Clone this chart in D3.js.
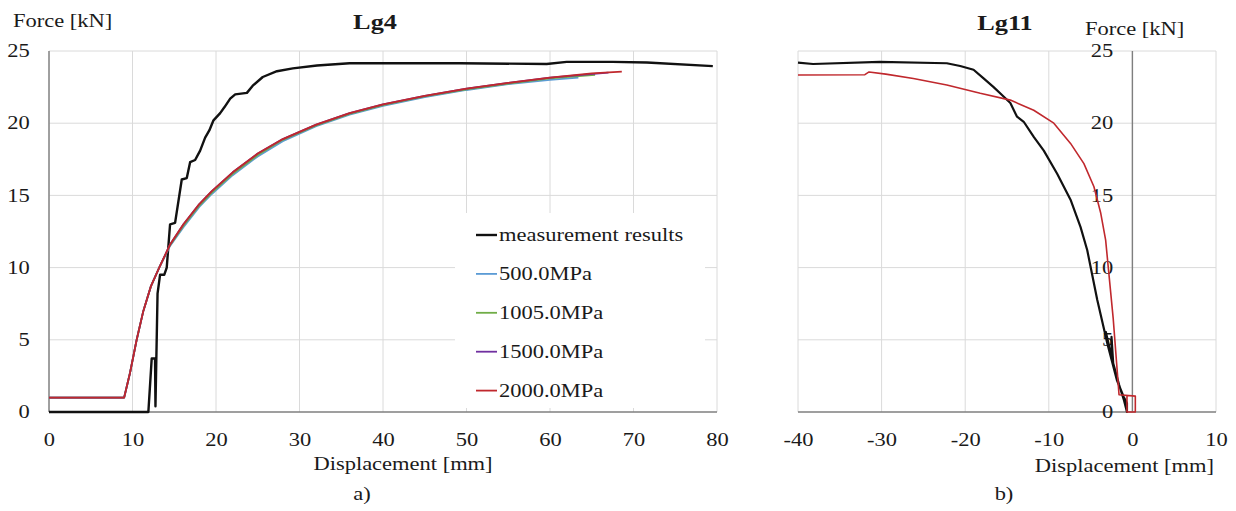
<!DOCTYPE html>
<html>
<head>
<meta charset="utf-8">
<script src="https://cdn.jsdelivr.net/npm/d3@7"></script>
<style>
  body { margin: 0; background: #fff; }
  svg text { font-family: "Liberation Serif", "Times New Roman", serif; fill: #1a1a1a; }
</style>
</head>
<body>
<svg id="chart" width="1236" height="511"></svg>
<script>
// ---- data: [displacement mm, force kN] ----
const lg4Measured = [[0,0],[11.9,0],[12.3,3.7],[12.7,3.7],[12.75,0.4],[13.0,8.2],[13.3,9.5],[13.8,9.5],[14.1,10.0],
  [14.5,13.0],[15.1,13.1],[15.9,16.1],[16.5,16.2],[16.9,17.3],[17.5,17.45],[18.1,18.1],[18.7,19.0],[19.2,19.5],
  [19.7,20.2],[20.5,20.7],[21.0,21.1],[21.7,21.7],[22.3,22.0],[23.7,22.1],[24.4,22.6],[25.6,23.2],[27.3,23.6],
  [29.2,23.8],[32.1,24.0],[36.0,24.15],[42,24.15],[49.2,24.15],[59.6,24.1],[62,24.25],[67.5,24.25],[71.6,24.2],[79.5,23.95]];
const lg4Sim500 = [[0,1.0],[9.0,1.0],[9.7,2.7],[10.5,5.0],[11.3,7.0],[12.2,8.7],[13.2,10.0],[14.5,11.5],[16.1,12.8],
  [18.0,14.2],[19.5,15.1],[22,16.4],[25,17.7],[28,18.75],[32,19.8],[36,20.6],[40,21.2],[45,21.8],[50,22.3],[55,22.7],[60,23.0],[63.4,23.15]];
const lg4Sim1005 = [[0,1.0],[9.0,1.0],[9.7,2.7],[10.5,5.0],[11.3,7.0],[12.2,8.7],[13.2,10.0],[14.5,11.55],[16.1,12.9],
  [18.0,14.3],[19.5,15.2],[22,16.5],[25,17.8],[28,18.85],[32,19.85],[36,20.65],[40,21.25],[45,21.85],[50,22.35],[55,22.75],[60,23.1],[65.4,23.35]];
const lg4Sim1500 = [[0,1.0],[9.0,1.0],[9.7,2.7],[10.5,5.0],[11.3,7.0],[12.2,8.7],[13.2,10.0],[14.5,11.6],[16.1,13.0],
  [18.0,14.4],[19.5,15.3],[22,16.6],[25,17.9],[28,18.9],[32,19.9],[36,20.7],[40,21.3],[45,21.9],[50,22.4],[55,22.8],[60,23.15],[67.0,23.5]];
const lg4Sim2000 = [[0,1.0],[9.0,1.0],[9.7,2.7],[10.5,5.0],[11.3,7.0],[12.2,8.7],[13.2,10.0],[14.5,11.6],[16.1,13.0],
  [18.0,14.4],[19.5,15.3],[22,16.6],[25,17.9],[28,18.9],[32,19.9],[36,20.7],[40,21.3],[45,21.9],[50,22.4],[55,22.8],[60,23.15],[65,23.45],[68.6,23.57]];

const lg11Measured = [[-40,24.2],[-38.2,24.1],[-30.2,24.24],[-22.2,24.15],[-20.6,23.96],[-19.0,23.7],[-17.8,23.1],
  [-16.6,22.5],[-15.6,21.95],[-14.6,21.4],[-13.8,20.45],[-13.0,20.1],[-11.8,19.05],[-10.6,18.1],[-9.0,16.5],[-7.4,14.7],
  [-6.2,12.8],[-5.4,11.2],[-4.2,7.75],[-3.0,4.75],[-1.85,2.2],[-1.05,1.06],[-0.65,0.6],[-0.65,0],
  [-1.0,0.8],[-1.6,1.9],[-2.4,3.6],[-2.5,5.2],[-2.3,3.4],[-3.2,5.6]];
const lg11Sim2000 = [[-40,23.34],[-32,23.36],[-31.5,23.55],[-29.5,23.4],[-26.2,23.1],[-22.2,22.65],[-18.2,22.07],
  [-14.6,21.6],[-11.8,20.9],[-9.4,20.0],[-7.4,18.6],[-5.8,17.2],[-4.6,15.6],[-3.8,13.8],[-3.2,11.9],[-2.3,6.5],
  [-1.6,1.2],[0.35,1.1],[0.35,0],[-0.65,0],[-0.65,1.1]];

const legendNames = ["measurement results", "500.0MPa", "1005.0MPa", "1500.0MPa", "2000.0MPa"];
const seriesColors = ["#111111", "#5b9bd5", "#70ad47", "#7030a0", "#c0282d"];
const forceTicks = [0, 5, 10, 15, 20, 25];
const lg4Ticks = [0, 10, 20, 30, 40, 50, 60, 70, 80];
const lg11Ticks = [-40, -30, -20, -10, 0, 10];

// ---- drawing ----
const svg = d3.select("#chart");
const SX = 1.25; // the source figure is stretched horizontally

function txt(x, y, s, size = 18, anchor = "start", weight = "normal") {
  return svg.append("text")
    .attr("transform", `translate(${x},${y}) scale(${SX},1)`)
    .attr("text-anchor", anchor)
    .attr("font-size", size)
    .attr("font-weight", weight)
    .text(s);
}

function panel({ xDomain, xRange, xTicks, series, colors, widths }) {
  const x = d3.scaleLinear().domain(xDomain).range(xRange);
  const y = d3.scaleLinear().domain([0, 25]).range([412, 51]);
  const g = svg.append("g");

  // grid
  g.append("g").selectAll("line").data(xTicks).join("line")
    .attr("x1", d => x(d)).attr("x2", d => x(d))
    .attr("y1", y(0)).attr("y2", y(25))
    .attr("stroke", "#dadada").attr("stroke-width", 1);
  g.append("g").selectAll("line").data(forceTicks.slice(1)).join("line")
    .attr("x1", xRange[0]).attr("x2", xRange[1])
    .attr("y1", d => y(d)).attr("y2", d => y(d))
    .attr("stroke", "#dadada").attr("stroke-width", 1);

  // axis lines
  g.append("line").attr("x1", xRange[0]).attr("x2", xRange[1]).attr("y1", y(0)).attr("y2", y(0))
    .attr("stroke", "#7f7f7f").attr("stroke-width", 1.4);
  g.append("line").attr("x1", x(0)).attr("x2", x(0)).attr("y1", y(0)).attr("y2", y(25))
    .attr("stroke", "#7f7f7f").attr("stroke-width", 1.4);

  // tick labels
  const xa = g.append("g").attr("transform", `translate(0,${y(0)})`)
    .call(d3.axisBottom(x).tickValues(xTicks).tickSize(0).tickPadding(21).tickFormat(d => String(d)));
  xa.select(".domain").remove();
  xa.selectAll("text").attr("font-size", 18).attr("fill", null).attr("transform", `scale(${SX},1)`);

  const ya = g.append("g").attr("transform", `translate(${x(0)},0)`)
    .call(d3.axisLeft(y).tickValues(forceTicks).tickSize(0).tickFormat(d => String(d)));
  ya.select(".domain").remove();
  ya.selectAll("text").attr("font-size", 18).attr("fill", null).attr("x", -15.4)
    .attr("transform", `scale(${SX},1)`);

  // curves
  const line = d3.line().x(d => x(d[0])).y(d => y(d[1]));
  g.append("g").selectAll("path").data(series).join("path")
    .attr("d", line)
    .attr("fill", "none")
    .attr("stroke", (d, i) => colors[i])
    .attr("stroke-width", (d, i) => widths[i])
    .attr("stroke-linejoin", "round");
  return { x, y };
}

// a) Lg4
panel({
  xDomain: [0, 80], xRange: [49, 717], xTicks: lg4Ticks,
  series: [lg4Measured, lg4Sim500, lg4Sim1005, lg4Sim1500, lg4Sim2000],
  colors: seriesColors, widths: [2.4, 1.8, 1.8, 1.8, 1.8]
});

// legend
const legend = svg.append("g");
legend.append("rect").attr("x", 455).attr("y", 213).attr("width", 250).attr("height", 195).attr("fill", "#fff");
legendNames.forEach((name, i) => {
  const ly = 235 + i * 38.9;
  legend.append("line").attr("x1", 476).attr("x2", 497).attr("y1", ly).attr("y2", ly)
    .attr("stroke", seriesColors[i]).attr("stroke-width", i === 0 ? 2.4 : 1.8);
  legend.append("text").attr("transform", `translate(499,${ly + 6}) scale(${SX},1)`)
    .attr("font-size", 18).text(name);
});

txt(13, 27, "Force [kN]");
txt(375, 29, "Lg4", 21, "middle", "bold");
txt(403, 470, "Displacement [mm]", 18, "middle");
txt(362, 500, "a)", 18, "middle");

// b) Lg11
panel({
  xDomain: [-40, 10], xRange: [798, 1216], xTicks: lg11Ticks,
  series: [lg11Measured, lg11Sim2000],
  colors: [seriesColors[0], seriesColors[4]], widths: [2.2, 1.6]
});

txt(1085, 35, "Force [kN]");
txt(1005, 30, "Lg11", 21, "middle", "bold");
txt(1214, 472, "Displacement [mm]", 18, "end");
txt(1004, 500, "b)", 18, "middle");
</script>
</body>
</html>
